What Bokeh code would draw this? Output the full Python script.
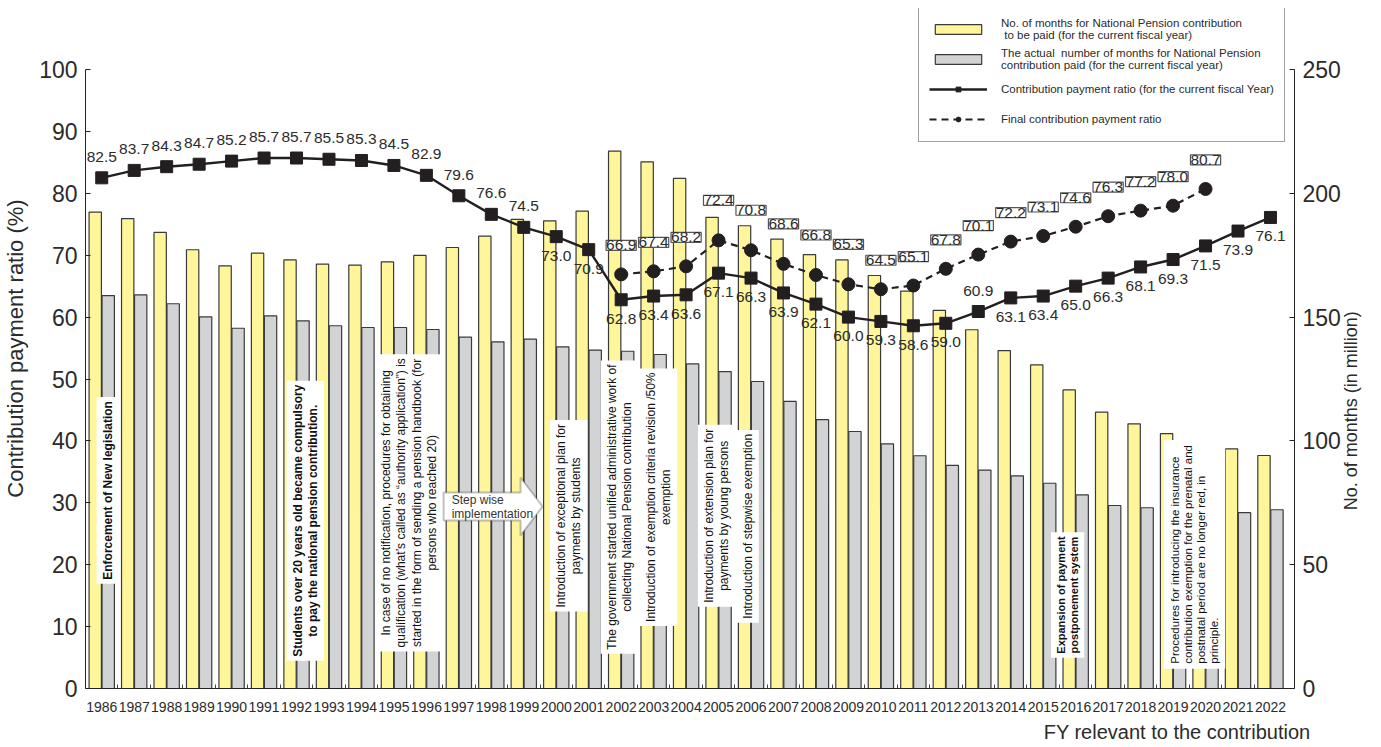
import math
from bokeh.plotting import figure
from bokeh.models import (ColumnDataSource, Range1d, LinearAxis, FixedTicker, Legend,
                          LegendItem, LabelSet, Label, PolyAnnotation, Title)
from bokeh.transform import dodge
from bokeh.core.properties import value
from bokeh.embed import file_html
from bokeh.resources import INLINE

# ---------------- data ----------------
years = list(range(1986, 2023))
months_due = [192.4, 189.8, 184.2, 177.2, 170.7, 175.8, 173.1, 171.4, 171.0, 172.3, 174.9, 178.1,
              182.7, 189.5, 188.9, 192.8, 217.0, 212.7, 206.0, 190.3, 186.9, 181.5, 175.2, 173.1,
              166.8, 160.5, 152.7, 144.9, 136.5, 130.7, 120.6, 111.6, 106.9, 102.9, 99.2, 96.8, 94.1]
months_paid = [158.7, 159.0, 155.4, 150.1, 145.5, 150.5, 148.5, 146.5, 145.8, 145.8, 145.0, 141.9,
               140.0, 141.1, 138.0, 136.7, 136.2, 134.9, 131.1, 128.0, 124.0, 116.0, 108.6, 103.8,
               98.8, 94.0, 90.1, 88.2, 85.9, 82.9, 78.2, 73.9, 73.0, 72.5, 71.5, 71.0, 72.2]
ratio_current = [82.5, 83.7, 84.3, 84.7, 85.2, 85.7, 85.7, 85.5, 85.3, 84.5, 82.9, 79.6, 76.6, 74.5,
                 73.0, 70.9, 62.8, 63.4, 63.6, 67.1, 66.3, 63.9, 62.1, 60.0, 59.3, 58.6, 59.0, 60.9,
                 63.1, 63.4, 65.0, 66.3, 68.1, 69.3, 71.5, 73.9, 76.1]
final_years = list(range(2002, 2021))
ratio_final = [66.9, 67.4, 68.2, 72.4, 70.8, 68.6, 66.8, 65.3, 64.5, 65.1, 67.8, 70.1, 72.2, 73.1,
               74.6, 76.3, 77.2, 78.0, 80.7]
year_labels = [str(y) for y in years]
pct_ticks = list(range(0, 101, 10))
month_ticks = list(range(0, 251, 50))

left_title = "Contribution payment ratio (%)"
right_title = "No. of months (in million)"
x_title = "FY relevant to the contribution"

legend_labels = [
    "No. of months for National Pension contribution\n to be paid (for the current fiscal year)",
    "The actual  number of months for National Pension\ncontribution paid (for the current fiscal year)",
    "Contribution payment ratio (for the current fiscal Year)",
    "Final contribution payment ratio",
]

events = [
    ("Enforcement of New legislation", 1986.18, 32.0),
    ("Students over 20 years old became compulsory\nto pay the national pension contribution.", 1992.27, 27.1),
    ("In case of no notification, procedures for obtaining\nqualification (what\u2019s called as \u201cauthority application\u201d) is\n"
     "started in the form of sending a pension handbook (for\npersons who reached 20)", 1995.47, 30.0),
    ("Introduction of exceptional plan for\npayments by students", 2000.38, 27.9),
    ("The government started unified administrative work of\ncollecting National Pension contribution", 2001.95, 29.3),
    ("Introduction of exemption criteria revision /50%\nexemption", 2003.15, 30.9),
    ("Introduction of extension plan for\npayments by young persons", 2004.94, 27.9),
    ("Introduction of stepwise exemption", 2005.9, 26.2),
    ("Expansion of payment\npostponement system", 2015.75, 15.1),
]
event_last = ("Procedures for introducing the insurance\ncontribution exemption for the prenatal and\n"
              "postnatal period are no longer          red, in\nprinciple.", 2019.66, 3.2)

# ---------------- styles ----------------
REG = "Liberation Sans"
YELLOW = "#FFF59B"
GRAY = "#D2D3D5"
INK = "#231F20"
TXT = "#2b2b2b"

# frame reaches up to the legend's top so the legend can sit above the 100 % line
HEADROOM = 680.0 / 619.0
p = figure(frame_width=1209, frame_height=680, output_backend="svg", toolbar_location=None,
           x_range=Range1d(1985.5, 2022.74), y_range=Range1d(0, 100 * HEADROOM),
           min_border_left=80, min_border_right=76, min_border_top=8, min_border_bottom=59)
p.extra_y_ranges = {"months": Range1d(0, 250 * HEADROOM)}
p.outline_line_color = None
p.xgrid.visible = False
p.ygrid.visible = False
p.background_fill_color = "white"

src = ColumnDataSource(dict(year=years, due=months_due, paid=months_paid, cur=ratio_current))

r_due = p.vbar(x=dodge("year", -0.2, range=p.x_range), top="due", width=0.38, source=src,
               y_range_name="months", fill_color=YELLOW, line_color="#3a3a3a", line_width=1.2)
r_paid = p.vbar(x=dodge("year", 0.2, range=p.x_range), top="paid", width=0.38, source=src,
                y_range_name="months", fill_color=GRAY, line_color="#3a3a3a", line_width=1.2)

fsrc = ColumnDataSource(dict(year=final_years, fin=ratio_final))
r_fl = p.line("year", "fin", source=fsrc, line_color=INK, line_width=2.2, line_dash="7 5")
r_fm = p.scatter("year", "fin", source=fsrc, marker="circle", size=13, fill_color=INK, line_color=INK)

r_cl = p.line("year", "cur", source=src, line_color=INK, line_width=2.4)
r_cm = p.scatter("year", "cur", source=src, marker="square", size=12, fill_color=INK, line_color=INK)

# current-year labels: above before 2000 and in 2013, below otherwise
above = [i for i, y in enumerate(years) if y <= 1999 or y == 2013]
below = [i for i in range(len(years)) if i not in above]
for idx, off in ((above, 21), (below, -19)):
    s = ColumnDataSource(dict(year=[years[i] for i in idx], cur=[ratio_current[i] for i in idx],
                              txt=[f"{ratio_current[i]:.1f}" for i in idx]))
    p.add_layout(LabelSet(x="year", y="cur", text="txt", source=s, y_offset=off,
                          text_align="center", text_baseline="middle", text_font=value(REG),
                          text_font_size="15.5px", text_color=TXT))

# final ratio labels (boxed)
high = [i for i, y in enumerate(final_years) if 2005 <= y <= 2009]
low = [i for i in range(len(final_years)) if i not in high]
for idx, off in ((high, 40), (low, 29)):
    s = ColumnDataSource(dict(year=[final_years[i] for i in idx], fin=[ratio_final[i] for i in idx],
                              txt=[f"{ratio_final[i]:.1f}" for i in idx]))
    p.add_layout(LabelSet(x="year", y="fin", text="txt", source=s, y_offset=off,
                          text_align="center", text_baseline="middle", text_font=value(REG),
                          text_font_size="15.5px", text_color=TXT,
                          background_fill_color="white", border_line_color="#555555",
                          border_line_width=1.2))

# ---------------- axes ----------------
p.yaxis.ticker = FixedTicker(ticks=pct_ticks)
p.yaxis.bounds = (pct_ticks[0], pct_ticks[-1])
p.yaxis.axis_label = left_title
right = LinearAxis(y_range_name="months", ticker=FixedTicker(ticks=month_ticks),
                   bounds=(month_ticks[0], month_ticks[-1]))
p.add_layout(right, "right")
for ax in (p.yaxis[0], right):
    ax.major_tick_in = 5
    ax.major_tick_out = 0
    ax.minor_tick_in = 0
    ax.minor_tick_out = 0
    ax.major_label_standoff = 8
    ax.major_label_text_font = REG
    ax.major_label_text_font_size = "23px"
    ax.major_label_text_color = TXT
    ax.axis_line_color = "#222222"
    ax.major_tick_line_color = "#222222"
p.yaxis[0].axis_label_text_font = REG
p.yaxis[0].axis_label_text_font_style = "normal"
p.yaxis[0].axis_label_text_color = TXT
p.yaxis[0].axis_label_text_font_size = "22px"
p.yaxis[0].axis_label_standoff = 8

# right-hand title: an outer right axis carrying one label, reading bottom-to-top
RIGHT_TITLE_AT = 72
right_lab = LinearAxis(y_range_name="months", ticker=FixedTicker(ticks=[RIGHT_TITLE_AT]),
                       major_label_overrides={RIGHT_TITLE_AT: right_title},
                       major_label_orientation=math.pi / 2, major_label_standoff=2,
                       major_label_text_font=REG, major_label_text_font_size="18px",
                       major_label_text_color=TXT, axis_line_color=None,
                       major_tick_line_color=None, minor_tick_line_color=None)
p.add_layout(right_lab, "right")

xa = p.xaxis[0]
xa.ticker = FixedTicker(ticks=years, minor_ticks=[y + 0.5 for y in years[:-1]])
xa.major_label_overrides = {y: t for y, t in zip(years, year_labels)}
xa.major_tick_in = 0
xa.major_tick_out = 0
xa.minor_tick_in = 4
xa.minor_tick_out = 0
xa.major_label_standoff = 13
xa.major_label_text_font = REG
xa.major_label_text_font_size = "14px"
xa.major_label_text_color = TXT
xa.axis_line_color = "#222222"
xa.minor_tick_line_color = "#444444"

p.add_layout(Title(text=x_title, align="right", offset=-16,
                   text_font=REG, text_font_size="20px", text_font_style="normal",
                   text_color=TXT, standoff=8), "below")

# ---------------- event annotations ----------------
for txt, x, y in events:
    bold = txt.startswith("Enforcement") or txt.startswith("Students") or txt.startswith("Expansion")
    p.add_layout(Label(x=x, y=y, text=txt, angle=math.pi / 2, text_align="center",
                       text_baseline="middle", text_font=REG,
                       text_font_size="12px" if not txt.startswith("Expansion") else "11px",
                       text_font_style="bold" if bold else "normal", text_line_height=1.1,
                       text_color="#111111", background_fill_color="white", padding=4))
txt, x, y = event_last
p.add_layout(Label(x=x, y=y, text=txt, angle=math.pi / 2, text_align="left",
                   text_baseline="middle", text_font=REG, text_font_size="11.5px",
                   text_line_height=1.1, text_color="#111111", background_fill_color="white",
                   padding=5))

# step-wise arrow
ax0, ax1, ax2 = 1996.53, 1998.90, 1999.58
ay_b0, ay_b1, ay_h0, ay_h1, ay_c = 27.14, 31.66, 24.72, 34.09, 29.4
p.add_layout(PolyAnnotation(xs=[ax0, ax1, ax1, ax2, ax1, ax1, ax0],
                            ys=[ay_b0, ay_b0, ay_h0, ay_c, ay_h1, ay_b1, ay_b1],
                            xs_units="data", ys_units="data", fill_color="white", fill_alpha=1,
                            line_color="#333333", line_width=2))
p.add_layout(Label(x=ax0 + 0.25, y=ay_c, text="Step wise\nimplementation", text_align="left",
                   text_baseline="middle", text_font=REG, text_font_size="12px",
                   text_line_height=1.0, text_color="#333333"))

# ---------------- legend ----------------
legend = Legend(items=[LegendItem(label=legend_labels[0], renderers=[r_due]),
                       LegendItem(label=legend_labels[1], renderers=[r_paid]),
                       LegendItem(label=legend_labels[2], renderers=[r_cl, r_cm]),
                       LegendItem(label=legend_labels[3], renderers=[r_fl, r_fm])],
                location=(833, 546), glyph_width=58, glyph_height=12, label_standoff=14,
                label_height=24, label_text_font=REG, label_text_font_size="11.5px",
                label_text_color=TXT, label_text_line_height=1.0, spacing=6,
                padding=10, margin=0,
                border_line_color="#444444", border_line_width=1.2,
                background_fill_color="white", background_fill_alpha=1)
p.add_layout(legend)

open("out.html", "w").write(file_html(p, INLINE))
